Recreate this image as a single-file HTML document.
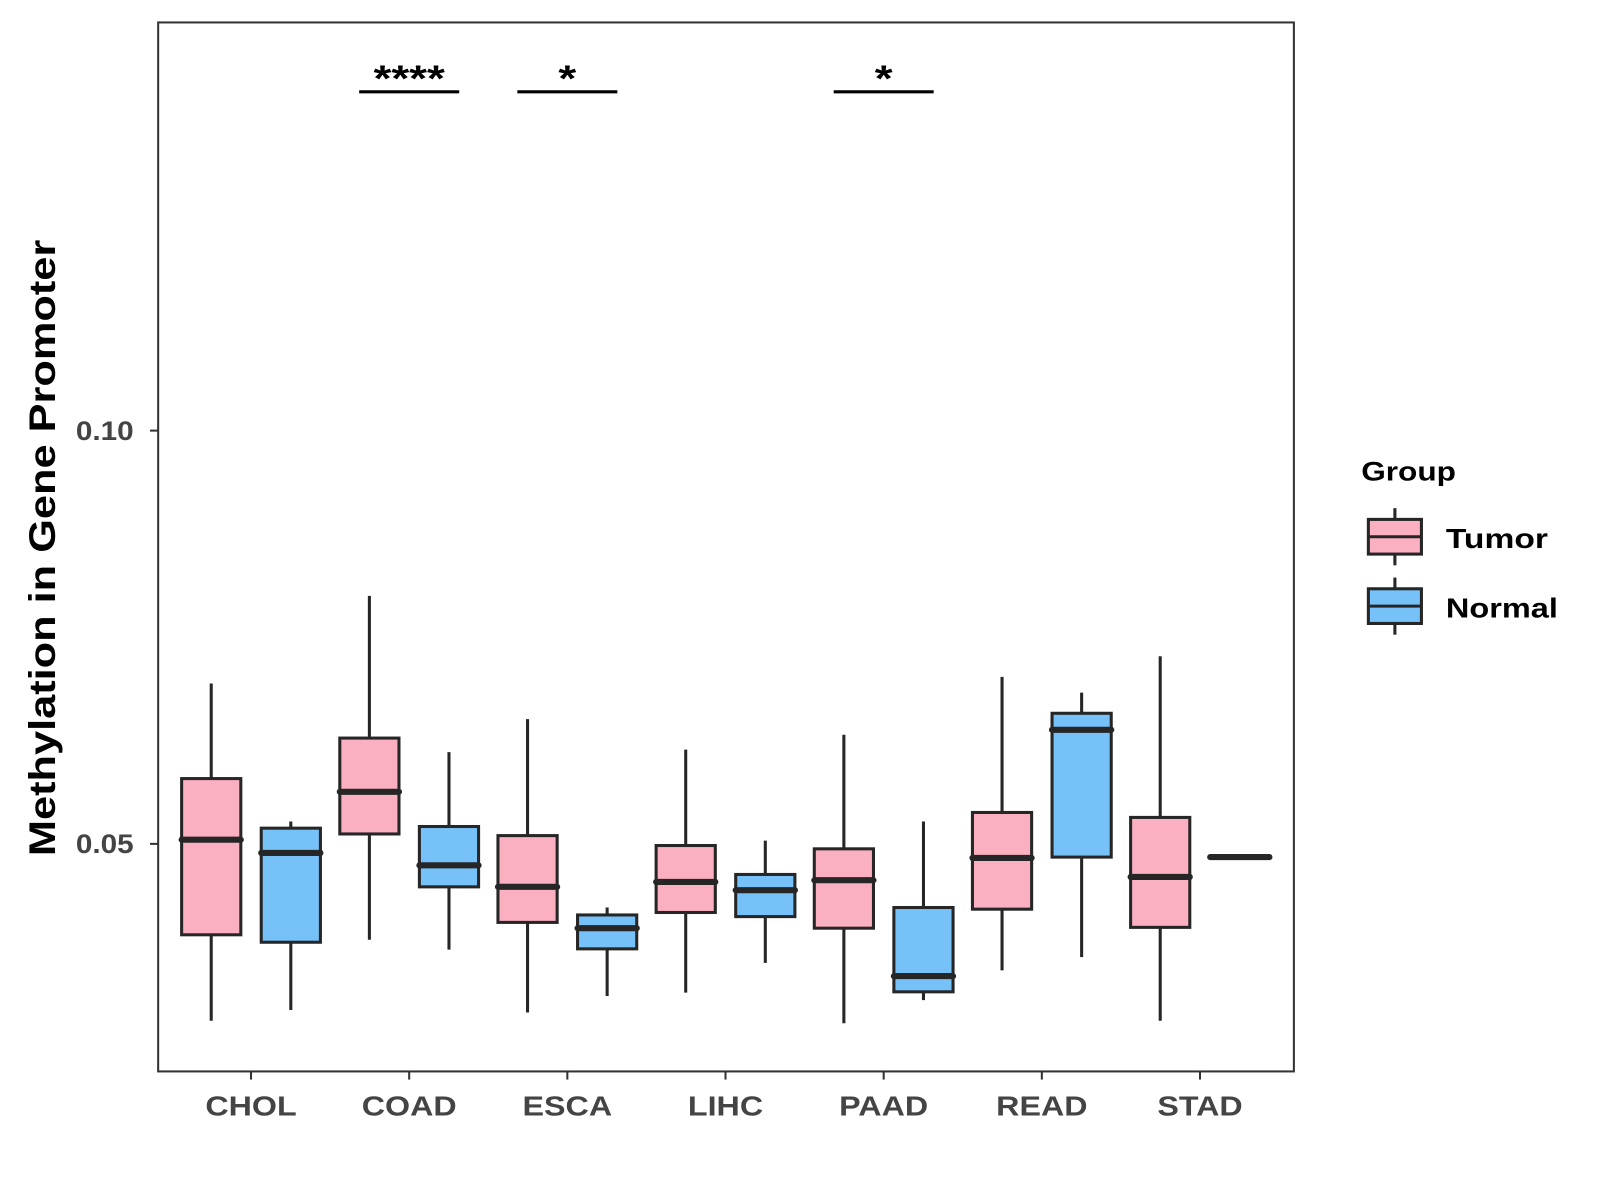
<!DOCTYPE html>
<html><head><meta charset="utf-8"><style>
html,body{margin:0;padding:0;background:#fff;}
svg{display:block;font-family:"Liberation Sans",Arial,sans-serif;}
</style></head><body>
<svg id="chart" width="1600" height="1200" viewBox="0 0 1568 1176">
<rect x="155" y="22" width="1113" height="1028" fill="#fff" stroke="#333" stroke-width="2"/>
<g id="marks"></g>
<g id="axes"></g>
<text id="ytitle" class="st" data-f="1.18" transform="translate(54,537) rotate(-90)" text-anchor="middle" font-size="36" font-weight="bold" fill="#000">Methylation in Gene Promoter</text>
<g>
<text class="st" data-f="1.19" x="1334" y="471" font-size="26" font-weight="bold" fill="#000">Group</text>
<g>
<line x1="1367" y1="498" x2="1367" y2="554" stroke="#262626" stroke-width="3"/>
<rect x="1341" y="509" width="52" height="34" fill="#FBB0C1" stroke="#262626" stroke-width="3"/>
<line x1="1341" y1="526" x2="1393" y2="526" stroke="#262626" stroke-width="3"/>
<text class="st" data-f="1.22" x="1417" y="537" font-size="27" font-weight="bold" fill="#000">Tumor</text>
</g>
<g>
<line x1="1367" y1="566" x2="1367" y2="622" stroke="#262626" stroke-width="3"/>
<rect x="1341" y="577" width="52" height="34" fill="#76C1F8" stroke="#262626" stroke-width="3"/>
<line x1="1341" y1="594" x2="1393" y2="594" stroke="#262626" stroke-width="3"/>
<text class="st" data-f="1.18" x="1417" y="605" font-size="27" font-weight="bold" fill="#000">Normal</text>
</g>
</g>
</svg>
<script>
const categories = ["CHOL","COAD","ESCA","LIHC","PAAD","READ","STAD"];
// [lowWhisker, q1, median, q3, highWhisker]
const tumorStats = [
 [0.0286,0.0390,0.0505,0.0579,0.0694],
 [0.0384,0.0512,0.0563,0.0628,0.0800],
 [0.0296,0.0405,0.0448,0.0510,0.0651],
 [0.0320,0.0417,0.0454,0.0498,0.0614],
 [0.0283,0.0398,0.0456,0.0494,0.0632],
 [0.0347,0.0421,0.0483,0.0538,0.0702],
 [0.0286,0.0399,0.0460,0.0532,0.0727]
];
const normalStats = [
 [0.0299,0.0381,0.0489,0.0519,0.0527],
 [0.0372,0.0448,0.0474,0.0521,0.0611],
 [0.0316,0.0373,0.0398,0.0414,0.0423],
 [0.0356,0.0412,0.0444,0.0463,0.0504],
 [0.0311,0.0321,0.0340,0.0423,0.0527],
 [0.0363,0.0484,0.0638,0.0658,0.0683],
 [0.0484,0.0484,0.0484,0.0484,0.0484]
];
const yTicks = [0.05, 0.10];
const yTickLabels = ["0.05","0.10"];
const sigCategories = ["COAD","ESCA","PAAD"];
const sigLabels = ["****","*","*"];

const NS="http://www.w3.org/2000/svg";
function y(v){ return 827 - (v-0.05)*8100; }
function x(i){ return 246 + i*155; }
function mk(tag, attrs, parent){
  const e=document.createElementNS(NS,tag);
  for(const k in attrs) e.setAttribute(k, attrs[k]);
  parent.appendChild(e); return e;
}
const marks=document.getElementById('marks');
const axes=document.getElementById('axes');
const bw=58, off=39;
function drawBox(s, cx, fill, name){
  const g=mk('g',{},marks);
  
  
  mk('line',{x1:cx,x2:cx,y1:y(s[4]),y2:y(s[0]),stroke:'#262626','stroke-width':3},g);
  const h=Math.max(0,y(s[1])-y(s[3]));
  mk('rect',{x:cx-bw/2,y:y(s[3]),width:bw,height:h,fill:fill,stroke:'#262626','stroke-width':3},g);
  mk('line',{x1:cx-bw/2,x2:cx+bw/2,y1:y(s[2]),y2:y(s[2]),stroke:'#262626','stroke-width':6,'stroke-linecap':'round'},g);
}
categories.forEach((c,i)=>{
  drawBox(tumorStats[i], x(i)-off, '#FBB0C1', 'box-tumor-'+c.toLowerCase());
  drawBox(normalStats[i], x(i)+off, '#76C1F8', 'box-normal-'+c.toLowerCase());
  mk('line',{x1:x(i),x2:x(i),y1:1050,y2:1058,stroke:'#333','stroke-width':2},axes);
  const t=mk('text',{x:x(i),y:1093,'text-anchor':'middle','font-size':27,'font-weight':'bold',fill:'#444',class:'st','data-f':'1.17'},axes);
  t.textContent=c;
  
  
});
yTicks.forEach((v,i)=>{
  mk('line',{x1:147,x2:155,y1:y(v),y2:y(v),stroke:'#333','stroke-width':2},axes);
  const t=mk('text',{x:131,y:y(v)+9,'text-anchor':'end','font-size':26,'font-weight':'bold',fill:'#444',class:'st','data-f':'1.12'},axes);
  t.textContent=yTickLabels[i];
  
  
});
sigCategories.forEach((c,j)=>{
  const i=categories.indexOf(c);
  const g=mk('g',{},marks);
  
  
  mk('line',{x1:x(i)-off-10,x2:x(i)+off+10,y1:90,y2:90,stroke:'#000','stroke-width':3},g);
  const t=mk('text',{x:x(i),y:89,'text-anchor':'middle','font-size':36,'font-weight':'bold',fill:'#000',class:'st','data-f':'1.25'},g);
  t.textContent=sigLabels[j];
});
document.querySelectorAll('text.st').forEach(t=>{
  const f=parseFloat(t.getAttribute('data-f'));
  const w=t.getComputedTextLength();
  if(w>0){ t.setAttribute('textLength', (w*f).toFixed(1)); t.setAttribute('lengthAdjust','spacingAndGlyphs'); }
});
</script>
</body></html>
